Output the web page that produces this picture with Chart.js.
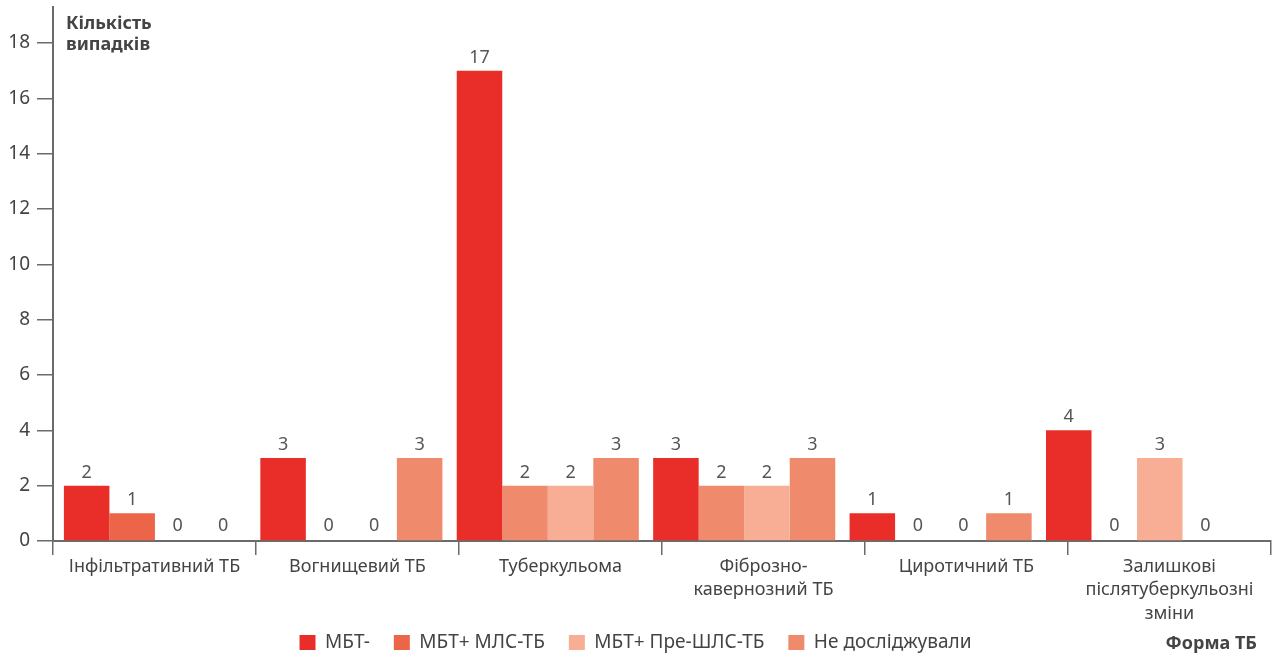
<!DOCTYPE html>
<html lang="uk">
<head>
<meta charset="utf-8">
<title>Форма ТБ</title>
<script src="https://cdn.jsdelivr.net/npm/chart.js@4.4.1/dist/chart.umd.min.js"></script>
<style>
  html, body { margin: 0; padding: 0; background: #fff; }
  #wrap { position: relative; width: 1274px; height: 654px; }
</style>
</head>
<body>
<div id="wrap"><canvas id="chart" width="1274" height="654"></canvas></div>
<script>
// Categories (forms of TB); multi-line labels are arrays
const categories = [
  'Інфільтративний ТБ',
  'Вогнищевий ТБ',
  'Туберкульома',
  ['Фіброзно-', 'кавернозний ТБ'],
  'Циротичний ТБ',
  ['Залишкові', 'післятуберкульозні', 'зміни']
];

// Number of cases per series
const mbtNeg       = [2, 3, 17, 3, 1, 4];
const mbtPosMdr    = [1, 0, 2, 2, 0, 0];
const mbtPosPreXdr = [0, 0, 2, 2, 0, 3];
const notTested    = [0, 3, 3, 3, 1, 0];

const seriesNames = ['МБТ-', 'МБТ+ МЛС-ТБ', 'МБТ+ Пре-ШЛС-ТБ', 'Не досліджували'];
const yTicks = [0, 2, 4, 6, 8, 10, 12, 14, 16, 18];

const C_RED = '#E92E29';
const C_ORANGE = '#EC6549';
const C_PALE = '#F7AE94';
const C_SALMON = '#F08A6C';
const seriesColors = [C_RED, C_ORANGE, C_PALE, C_SALMON];
const mdrBarColors = [C_ORANGE, C_ORANGE, C_SALMON, C_SALMON, C_ORANGE, C_ORANGE];

const FONT = '"Noto Sans", "Open Sans", sans-serif';
const TEXT = '#444444';
const AXIS = '#6b6b6b';

// Bars sit on a hidden numeric axis (one slot per category index),
// the visible category axis carries the labels and separator ticks.
const slotIndex = categories.map((_, i) => i);
const toPoints = arr => arr.map((v, i) => ({ x: slotIndex[i], y: v }));

// Value labels above every bar
const valueLabels = {
  id: 'valueLabels',
  afterDatasetsDraw(chart) {
    const ctx = chart.ctx;
    ctx.save();
    ctx.font = '18px ' + FONT;
    ctx.fillStyle = '#555555';
    ctx.textAlign = 'center';
    ctx.textBaseline = 'alphabetic';
    chart.data.datasets.forEach((ds, i) => {
      const meta = chart.getDatasetMeta(i);
      if (meta.hidden) return;
      meta.data.forEach((bar, j) => {
        const v = ds.data[j].y;
        ctx.fillText(String(v), bar.x, bar.y - (v === 0 ? 10 : 8));
      });
    });
    ctx.restore();
  }
};

// Axis titles
const axisTitles = {
  id: 'axisTitles',
  afterDraw(chart) {
    const ctx = chart.ctx;
    ctx.save();
    ctx.fillStyle = TEXT;
    ctx.font = 'bold 18px ' + FONT;
    ctx.textAlign = 'left';
    ctx.textBaseline = 'alphabetic';
    ctx.fillText('Кількість', 66, 29);
    ctx.fillText('випадків', 66, 50);
    ctx.textAlign = 'right';
    ctx.fillText('Форма ТБ', 1257, 649);
    ctx.restore();
  }
};

// Lift the legend row so it sits just under the multi-line category labels
const legendLift = {
  id: 'legendLift',
  afterLayout(chart) {
    const lg = chart.legend;
    if (!lg) return;
    lg.top -= 17;
    lg.bottom -= 17;
  }
};

new Chart(document.getElementById('chart'), {
  type: 'bar',
  data: {
    labels: categories,
    datasets: [
      { label: seriesNames[0], data: toPoints(mbtNeg), backgroundColor: C_RED, xAxisID: 'xb' },
      { label: seriesNames[1], data: toPoints(mbtPosMdr), backgroundColor: mdrBarColors, xAxisID: 'xb' },
      { label: seriesNames[2], data: toPoints(mbtPosPreXdr), backgroundColor: C_PALE, xAxisID: 'xb' },
      { label: seriesNames[3], data: toPoints(notTested), backgroundColor: C_SALMON, xAxisID: 'xb' }
    ]
  },
  options: {
    responsive: false,
    animation: false,
    layout: { padding: { left: 0, right: 3, top: 7, bottom: -25 } },
    datasets: { bar: { categoryPercentage: 0.927, barPercentage: 1.0, borderWidth: 0 } },
    plugins: {
      tooltip: { enabled: false },
      legend: {
        position: 'bottom',
        labels: {
          font: { family: FONT, size: 19 },
          color: TEXT,
          boxWidth: 16,
          boxHeight: 15,
          padding: 24,
          generateLabels(chart) {
            return chart.data.datasets.map((ds, i) => ({
              text: ds.label,
              fillStyle: seriesColors[i],
              strokeStyle: seriesColors[i],
              lineWidth: 0,
              hidden: !chart.isDatasetVisible(i),
              datasetIndex: i,
              fontColor: TEXT
            }));
          }
        }
      }
    },
    scales: {
      x: {
        type: 'category',
        position: 'bottom',
        offset: true,
        grid: { display: true, offset: true, drawOnChartArea: false, drawTicks: true, tickLength: 14, color: AXIS, lineWidth: 1.5 },
        border: { display: true, color: AXIS, width: 2 },
        ticks: { font: { family: FONT, size: 18, lineHeight: 1.3 }, color: TEXT, padding: 0, maxRotation: 0, autoSkip: false },
        afterFit(scale) { scale.paddingLeft = 0; scale.paddingRight = 0; scale.height = 85; }
      },
      xb: {
        type: 'linear',
        position: 'bottom',
        display: false,
        offset: false,
        grid: { offset: false },
        min: -0.519,
        max: 5.682,
        afterBuildTicks(scale) { scale.ticks = slotIndex.map(v => ({ value: v })); }
      },
      y: {
        min: 0,
        max: 19.3,
        grid: { display: true, drawOnChartArea: false, drawTicks: true, tickLength: 16, color: AXIS, lineWidth: 1.5 },
        border: { display: true, color: AXIS, width: 2 },
        ticks: { stepSize: 2, font: { family: FONT, size: 19 }, color: TEXT, padding: 7 },
        afterBuildTicks(scale) { scale.ticks = yTicks.map(v => ({ value: v })); },
        afterFit(scale) { scale.width = 53; scale.paddingTop = 0; scale.paddingBottom = 0; }
      }
    }
  },
  plugins: [valueLabels, axisTitles, legendLift]
});
</script>
</body>
</html>
